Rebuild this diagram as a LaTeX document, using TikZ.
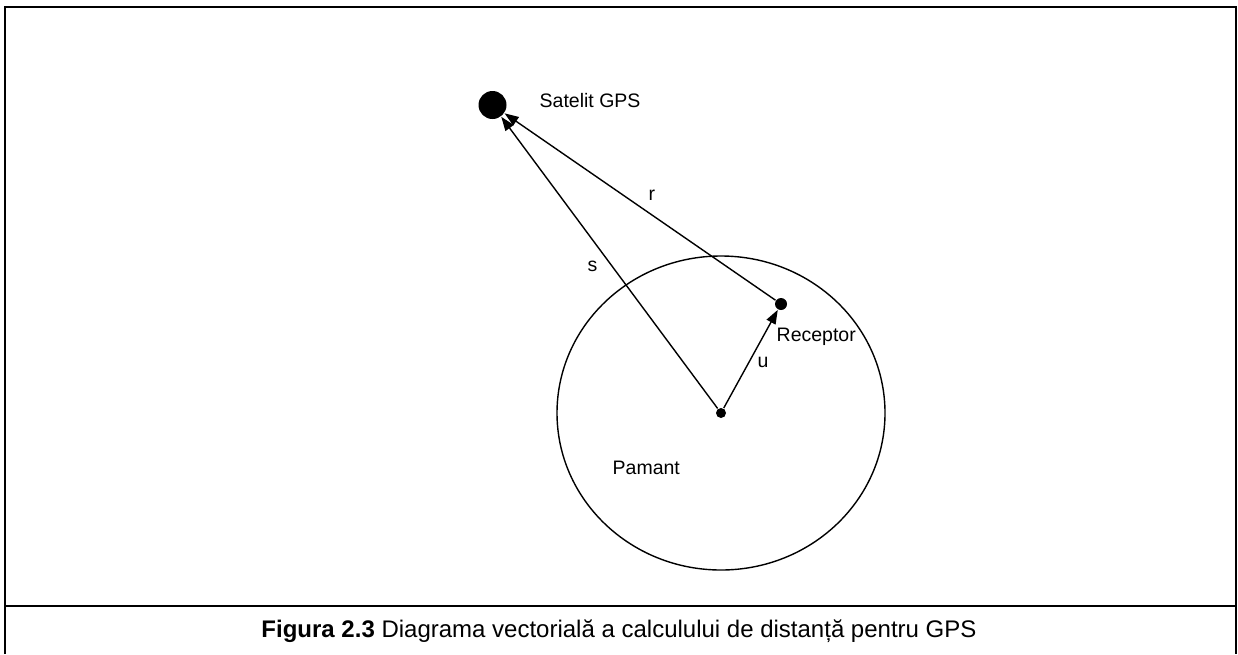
\documentclass[tikz,border=0pt]{standalone}
\usepackage{fontspec}
\setmainfont{Liberation Sans}
\usepackage{tikz}
\usetikzlibrary{arrows.meta,positioning}

\begin{document}
\begin{tikzpicture}[x=1pt,y=-1pt,
  dot/.style={circle,fill=black,inner sep=0pt},
  lbl/.style={inner sep=0pt,anchor=base west,font=\fontsize{19.5}{22}\selectfont},
  vec/.style={-{Triangle[length=14pt,width=10pt]},line width=1.4pt},
  line width=1.4pt]

\useasboundingbox (0,0) rectangle (1238,654);
\draw[line width=1.4pt] (5,654) -- (5,7) -- (1236,7) -- (1236,654);
\draw[line width=1.4pt] (5,606) -- (1236,606);

\draw (721,413) ellipse [x radius=164, y radius=157];

\node[dot,minimum size=28pt] (sat) at (492.5,105) {};
\node[dot,minimum size=12pt] (rec) at (781,304) {};
\node[dot,minimum size=10pt] (ctr) at (721,413) {};

\node[lbl] (satlbl) at (539,107) {Satelit GPS};
\node[lbl] (reclbl) at (776,341) {Receptor};
\node[lbl] (earthlbl) at (612,474) {Pamant};

\draw[vec] (ctr) -- (sat);
\draw[vec] (rec) -- (sat);
\draw[vec] (ctr) -- (rec);

\node[lbl] (slbl) at (587,271) {s};
\node[lbl] (rlbl) at (648,200) {r};
\node[lbl] (ulbl) at (757,367) {u};

\node[inner sep=0pt,anchor=base,font=\fontsize{24}{28}\selectfont] (caption) at (619,637)
  {\textbf{Figura 2.3} Diagrama vectorială a calculului de distanță pentru GPS};
\end{tikzpicture}
\end{document}
